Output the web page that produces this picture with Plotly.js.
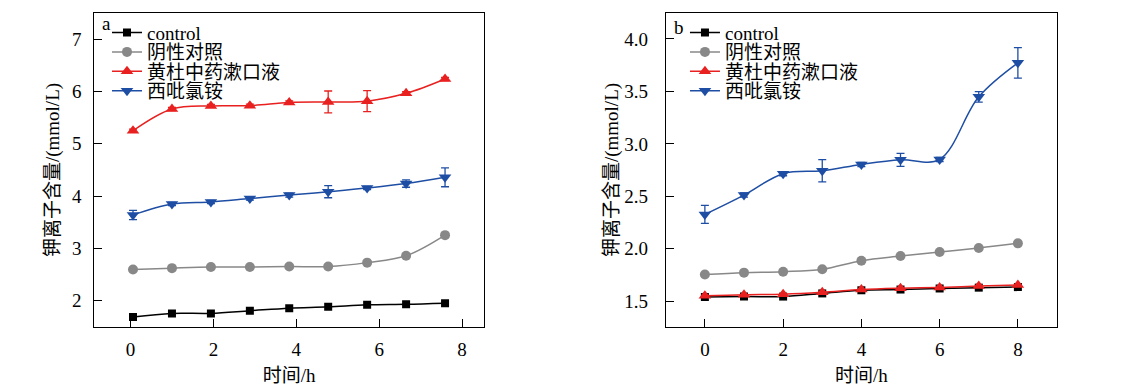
<!DOCTYPE html>
<html>
<head>
<meta charset="utf-8">
<script src="https://cdn.plot.ly/plotly-3.0.1.min.js"></script>
<style>html,body{margin:0;padding:0;background:#fff;}#chart{width:1124px;height:392px;}</style>
</head>
<body>
<div id="chart"></div>
<script>
// ---- Data ----
var seriesNames = ["control", "阴性对照", "黄杜中药漱口液", "西吡氯铵"];

// Panel a
var xA = [0.06, 1.0, 1.94, 2.88, 3.83, 4.77, 5.71, 6.65, 7.59];
var aControl = [1.69, 1.76, 1.76, 1.81, 1.86, 1.885, 1.925, 1.935, 1.955];
var aNegative = [2.60, 2.625, 2.645, 2.645, 2.655, 2.655, 2.73, 2.86, 3.255];
var aHerbal = [5.25, 5.665, 5.725, 5.73, 5.79, 5.80, 5.815, 5.965, 6.24];
var aHerbalErr = [0.03, 0.03, 0.03, 0.03, 0.03, 0.21, 0.20, 0.03, 0.03];
var aCpc = [3.64, 3.85, 3.89, 3.955, 4.02, 4.085, 4.155, 4.24, 4.36];
var aCpcErr = [0.09, 0.03, 0.03, 0.03, 0.04, 0.115, 0.03, 0.07, 0.18];

// Panel b
var xB = [0, 1, 2, 3, 4, 5, 6, 7, 8];
var bControl = [1.54, 1.545, 1.545, 1.575, 1.605, 1.612, 1.622, 1.63, 1.635];
var bNegative = [1.755, 1.773, 1.782, 1.805, 1.887, 1.931, 1.970, 2.008, 2.052];
var bHerbal = [1.552, 1.562, 1.567, 1.585, 1.612, 1.625, 1.632, 1.645, 1.655];
var bCpc = [2.328, 2.512, 2.716, 2.744, 2.804, 2.848, 2.852, 3.448, 3.772];
var bCpcErr = [0.085, 0.02, 0.02, 0.106, 0.02, 0.062, 0.02, 0.05, 0.146];

var panelLabels = ["a", "b"];
var xTitle = "时间/h";
var yTitle = "钾离子含量/(mmol/L)";

// ---- Styles ----
var colors = ["#000000", "#888888", "#e8201f", "#1e4ea4"];
var symbols = ["square", "circle", "triangle-up", "triangle-down"];
var sizes = [8, 10, 11, 11];
var FONT = "'Liberation Serif', 'Times New Roman', 'Noto Sans CJK SC', serif";

function mk(x, y, i, xa, ya, leg, err) {
  var t = {
    x: x, y: y, name: seriesNames[i], type: "scatter", mode: "lines+markers",
    xaxis: xa, yaxis: ya, legend: leg,
    line: {color: colors[i], width: 1.5, shape: "spline", smoothing: 1},
    marker: {color: colors[i], symbol: symbols[i], size: sizes[i]}
  };
  if (err) {
    t.error_y = {type: "data", array: err, visible: true, color: colors[i], thickness: 1.3, width: 4};
  }
  return t;
}

var data = [
  mk(xA, aControl, 0, "x", "y", "legend"),
  mk(xA, aNegative, 1, "x", "y", "legend"),
  mk(xA, aHerbal, 2, "x", "y", "legend", aHerbalErr),
  mk(xA, aCpc, 3, "x", "y", "legend", aCpcErr),
  mk(xB, bControl, 0, "x2", "y2", "legend2"),
  mk(xB, bNegative, 1, "x2", "y2", "legend2"),
  mk(xB, bHerbal, 2, "x2", "y2", "legend2"),
  mk(xB, bCpc, 3, "x2", "y2", "legend2", bCpcErr)
];

function xaxisDef(domain, range, anchor) {
  return {
    domain: domain, range: range, anchor: anchor,
    showline: true, mirror: true, linecolor: "#000", linewidth: 1,
    ticks: "inside", ticklen: 8, tickwidth: 1, tickcolor: "#000",
    tickvals: [0, 2, 4, 6, 8], showgrid: false, zeroline: false,
    tickfont: {family: FONT, size: 19, color: "#000"},
    ticklabelstandoff: 5,
    title: {text: xTitle, font: {family: FONT, size: 19, color: "#000"}, standoff: 9}
  };
}
function yaxisDef(range, dtick, fmt, anchor, standoff, tstand) {
  return {
    range: range, anchor: anchor, domain: [0, 1],
    showline: true, mirror: true, linecolor: "#000", linewidth: 1,
    ticks: "inside", ticklen: 8, tickwidth: 1, tickcolor: "#000",
    dtick: dtick, tick0: 0, tickformat: fmt, showgrid: false, zeroline: false,
    tickfont: {family: FONT, size: 19, color: "#000"},
    ticklabelstandoff: standoff,
    title: {text: yTitle, font: {family: FONT, size: 19, color: "#000"}, standoff: tstand}
  };
}

var layout = {
  width: 1124, height: 392,
  margin: {l: 0, r: 0, t: 13, b: 65},
  paper_bgcolor: "#fff", plot_bgcolor: "#fff",
  font: {family: FONT, size: 19, color: "#000"},
  xaxis: xaxisDef([0.0839, 0.4306], [-0.874, 8.53], "y"),
  yaxis: yaxisDef([1.5, 7.5], 1, "d", "x", 8, 7),
  xaxis2: xaxisDef([0.5923, 0.9404], [-1.0, 9.0], "y2"),
  yaxis2: yaxisDef([1.255, 4.247], 0.5, ".1f", "x2", 13, 0),
  legend: {x: 0.0952, y: 0.998, xanchor: "left", yanchor: "top", bgcolor: "rgba(0,0,0,0)",
    font: {family: FONT, size: 19, color: "#000"}, tracegroupgap: 0},
  legend2: {x: 0.6094, y: 0.998, xanchor: "left", yanchor: "top", bgcolor: "rgba(0,0,0,0)",
    font: {family: FONT, size: 19, color: "#000"}, tracegroupgap: 0},
  showlegend: true,
  annotations: [
    {text: panelLabels[0], xref: "paper", yref: "paper", x: 0.0893, y: 0.965, xanchor: "left", yanchor: "middle",
     showarrow: false, font: {family: FONT, size: 19, color: "#000"}},
    {text: panelLabels[1], xref: "paper", yref: "paper", x: 0.5980, y: 0.955, xanchor: "left", yanchor: "middle",
     showarrow: false, font: {family: FONT, size: 19, color: "#000"}}
  ]
};

Plotly.newPlot("chart", data, layout, {staticPlot: true}).then(function () {
  // tighten legend row spacing to match the reference (19.3 px per row)
  ["legend", "legend2"].forEach(function (cls) {
    var g = document.querySelector("g." + cls);
    if (!g) return;
    var items = g.querySelectorAll("g.traces");
    var y0 = null;
    items.forEach(function (it, i) {
      var tr = it.getAttribute("transform") || "";
      var m = tr.match(/translate\(([-\d.e]+)[ ,]+([-\d.e]+)\)/);
      if (!m) return;
      var x = parseFloat(m[1]), y = parseFloat(m[2]);
      if (y0 === null) y0 = y;
      it.setAttribute("transform", "translate(" + x + "," + (y0 + i * 19.4) + ")");
    });
  });
});
</script>
</body>
</html>
